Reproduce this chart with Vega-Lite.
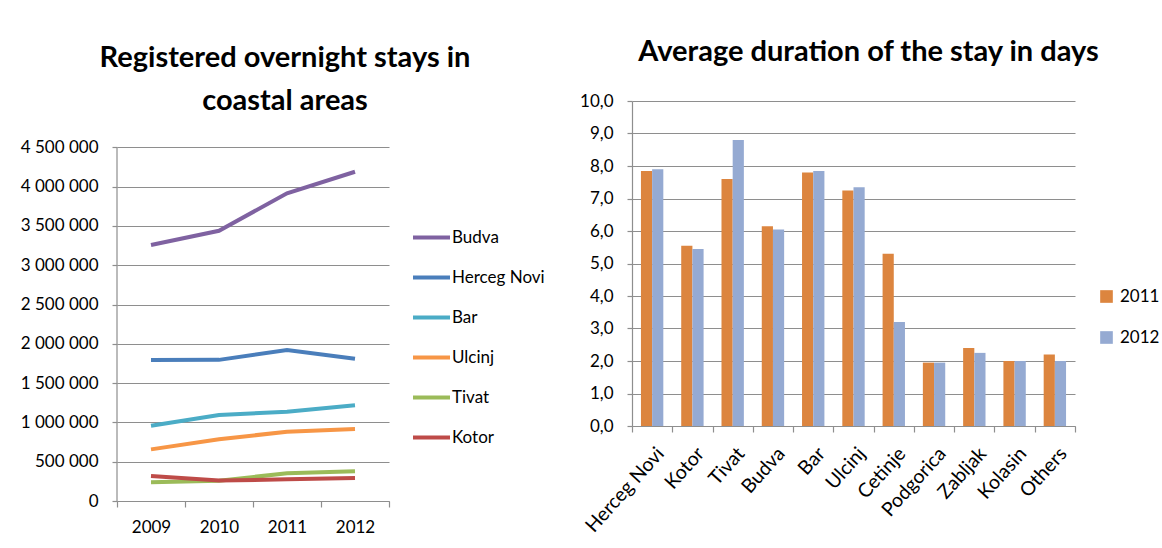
{
  "$schema": "https://vega.github.io/schema/vega-lite/v6.json",
  "padding": {"left": 20, "top": 38, "right": 0, "bottom": 0},
  "background": "white",
  "config": {
    "locale": {"number": {"decimal": ",", "thousands": " ", "grouping": [3], "currency": ["", ""]}},
    "font": "Lato",
    "view": {"stroke": null},
    "axis": {"labelFont": "Lato", "labelFontSize": 17, "labelColor": "#000000", "gridColor": "#8E8E8E", "domainColor": "#8E8E8E", "tickColor": "#8E8E8E", "gridWidth": 1, "domainWidth": 1.2, "tickWidth": 1.2},
    "title": {"font": "Lato", "fontSize": 29, "fontWeight": "bold", "color": "#000000", "anchor": "middle", "frame": "group"},
    "legend": {"labelFont": "Lato", "labelFontSize": 17, "labelColor": "#000000", "title": null}
  },
  "datasets": {
    "stays": [
      {"year": "2009", "city": "Budva", "stays": 3257000},
      {"year": "2010", "city": "Budva", "stays": 3439000},
      {"year": "2011", "city": "Budva", "stays": 3915000},
      {"year": "2012", "city": "Budva", "stays": 4190000},
      {"year": "2009", "city": "Herceg Novi", "stays": 1794000},
      {"year": "2010", "city": "Herceg Novi", "stays": 1796000},
      {"year": "2011", "city": "Herceg Novi", "stays": 1921000},
      {"year": "2012", "city": "Herceg Novi", "stays": 1810000},
      {"year": "2009", "city": "Bar", "stays": 958000},
      {"year": "2010", "city": "Bar", "stays": 1094000},
      {"year": "2011", "city": "Bar", "stays": 1137000},
      {"year": "2012", "city": "Bar", "stays": 1217000},
      {"year": "2009", "city": "Ulcinj", "stays": 657000},
      {"year": "2010", "city": "Ulcinj", "stays": 785000},
      {"year": "2011", "city": "Ulcinj", "stays": 882000},
      {"year": "2012", "city": "Ulcinj", "stays": 916000},
      {"year": "2009", "city": "Tivat", "stays": 238000},
      {"year": "2010", "city": "Tivat", "stays": 259000},
      {"year": "2011", "city": "Tivat", "stays": 352000},
      {"year": "2012", "city": "Tivat", "stays": 378000},
      {"year": "2009", "city": "Kotor", "stays": 318000},
      {"year": "2010", "city": "Kotor", "stays": 260000},
      {"year": "2011", "city": "Kotor", "stays": 276000},
      {"year": "2012", "city": "Kotor", "stays": 293000}
    ],
    "days": [
      {"city": "Herceg Novi", "year": "2011", "days": 7.85},
      {"city": "Herceg Novi", "year": "2012", "days": 7.9},
      {"city": "Kotor", "year": "2011", "days": 5.55},
      {"city": "Kotor", "year": "2012", "days": 5.45},
      {"city": "Tivat", "year": "2011", "days": 7.6},
      {"city": "Tivat", "year": "2012", "days": 8.8},
      {"city": "Budva", "year": "2011", "days": 6.15},
      {"city": "Budva", "year": "2012", "days": 6.05},
      {"city": "Bar", "year": "2011", "days": 7.8},
      {"city": "Bar", "year": "2012", "days": 7.85},
      {"city": "Ulcinj", "year": "2011", "days": 7.25},
      {"city": "Ulcinj", "year": "2012", "days": 7.35},
      {"city": "Cetinje", "year": "2011", "days": 5.3},
      {"city": "Cetinje", "year": "2012", "days": 3.2},
      {"city": "Podgorica", "year": "2011", "days": 1.95},
      {"city": "Podgorica", "year": "2012", "days": 1.95},
      {"city": "Zabljak", "year": "2011", "days": 2.4},
      {"city": "Zabljak", "year": "2012", "days": 2.25},
      {"city": "Kolasin", "year": "2011", "days": 2.0},
      {"city": "Kolasin", "year": "2012", "days": 2.0},
      {"city": "Others", "year": "2011", "days": 2.2},
      {"city": "Others", "year": "2012", "days": 2.0}
    ]
  },
  "spacing": 34,
  "resolve": {"scale": {"color": "independent"}, "legend": {"color": "independent"}},
  "hconcat": [
    {
      "width": 272,
      "height": 400,
      "title": {"text": ["Registered overnight stays in", "coastal  areas"], "dx": 32, "dy": 15, "offset": 0, "lineHeight": 43},
      "layer": [
        {
          "data": {"name": "stays"},
          "mark": {"type": "line", "strokeWidth": 4},
          "encoding": {
            "x": {"field": "year", "type": "ordinal", "scale": {"type": "band", "paddingInner": 0, "paddingOuter": 0},
                  "axis": {"title": null, "labelAngle": 0, "tickBand": "extent", "tickSize": 6, "labelPadding": 12, "grid": false}},
            "y": {"field": "stays", "type": "quantitative", "scale": {"domain": [0, 5090000], "nice": false},
                  "axis": {"title": null, "values": [0, 500000, 1000000, 1500000, 2000000, 2500000, 3000000, 3500000, 4000000, 4500000], "format": ",d", "domain": false, "tickSize": 5, "labelPadding": 14, "grid": true}},
            "color": {"field": "city", "type": "nominal",
                      "scale": {"domain": ["Budva", "Herceg Novi", "Bar", "Ulcinj", "Tivat", "Kotor"], "range": ["#7F62A1", "#4A7EBB", "#4BACC6", "#F79646", "#9BBB59", "#BE4B48"]},
                      "legend": {"orient": "none", "legendX": 294, "legendY": 116, "symbolType": "stroke", "symbolSize": 1369, "symbolStrokeWidth": 4, "rowPadding": 11, "labelOffset": 0}}
          }
        },
        {
          "data": {"values": [{"line": "y axis"}]},
          "mark": {"type": "rule", "color": "#8E8E8E", "strokeWidth": 1.2},
          "encoding": {
            "x": {"datum": "2009", "type": "ordinal", "bandPosition": 0},
            "y": {"datum": 0, "type": "quantitative"},
            "y2": {"datum": 4500000}
          }
        }
      ]
    },
    {
      "width": 443,
      "height": 325,
      "title": {"text": "Average duration of the stay in days", "dx": 15, "offset": 25},
      "data": {"name": "days"},
      "mark": {"type": "bar"},
      "encoding": {
        "x": {"field": "city", "type": "nominal", "sort": null, "scale": {"paddingInner": 0, "paddingOuter": 0},
              "axis": {"title": null, "labelAngle": -48, "labelAlign": "right", "labelBaseline": "middle", "labelFontSize": 19.5, "labelOffset": 8, "tickBand": "extent", "tickSize": 6, "labelPadding": 18}},
        "xOffset": {"field": "year", "type": "nominal", "scale": {"paddingInner": 0, "paddingOuter": 0.8}},
        "y": {"field": "days", "type": "quantitative", "scale": {"domain": [0, 10], "nice": false},
              "axis": {"title": null, "values": [0, 1, 2, 3, 4, 5, 6, 7, 8, 9, 10], "format": ".1f", "tickSize": 5, "labelPadding": 14, "grid": true}},
        "color": {"field": "year", "type": "nominal", "scale": {"range": ["#DC853F", "#95AAD2"]},
                  "legend": {"orient": "none", "legendX": 466, "legendY": 187, "symbolType": "square", "symbolSize": 160, "rowPadding": 23, "labelOffset": 5}}
      }
    }
  ]
}
